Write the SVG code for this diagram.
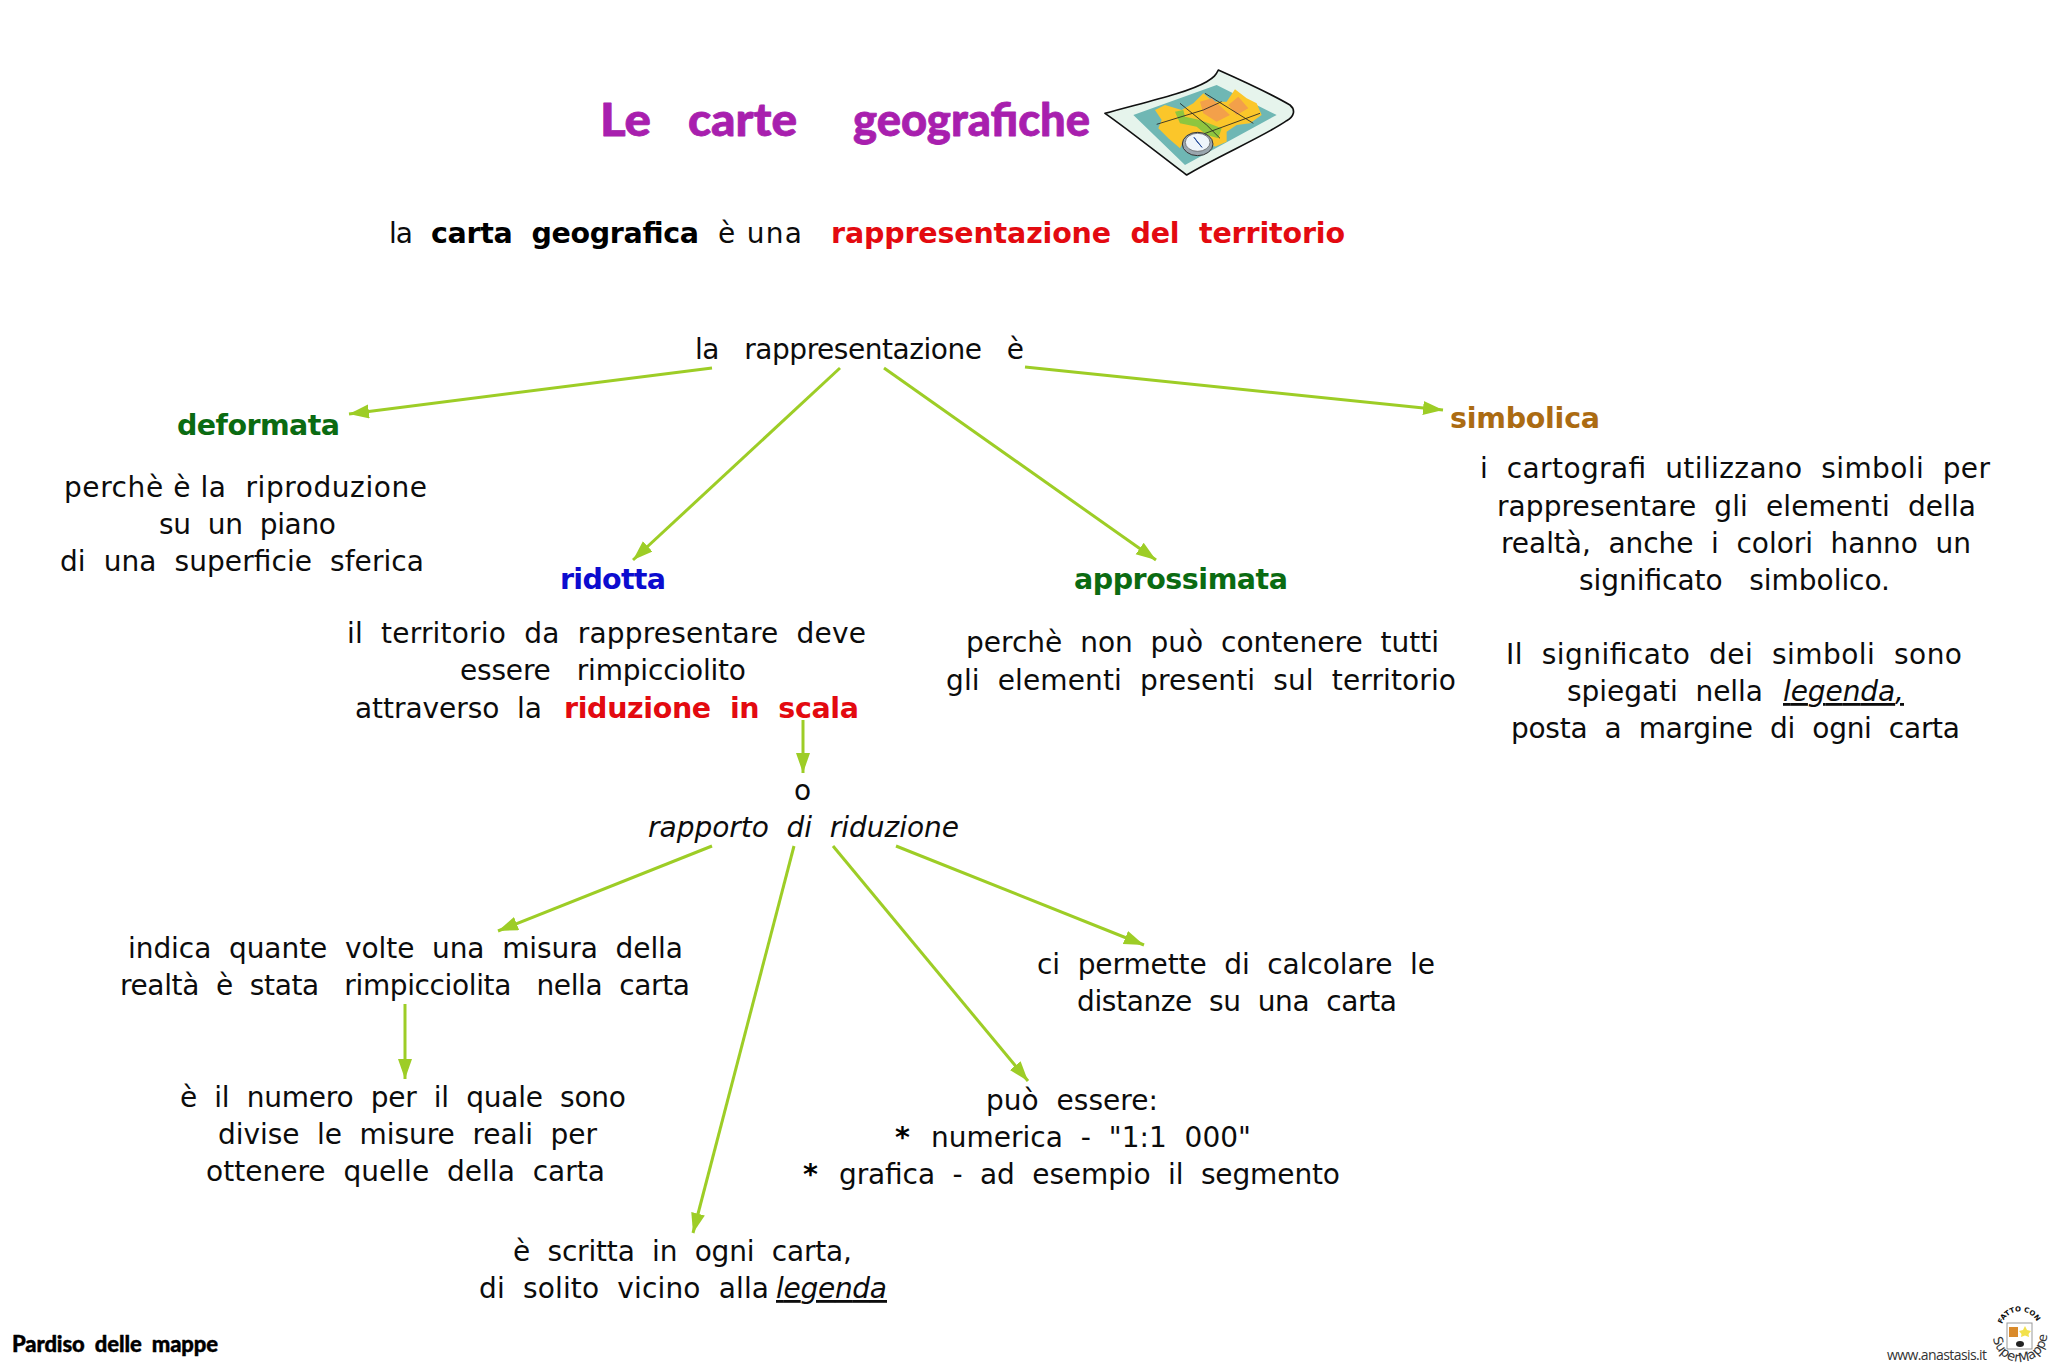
<svg xmlns="http://www.w3.org/2000/svg" width="2048" height="1363" viewBox="0 0 2048 1363">
<style>
text{font-family:"DejaVu Sans",Verdana,sans-serif;font-size:28px;fill:#0c0c0c;white-space:pre}
.b{font-weight:700;font-size:28.500px}
.i{font-style:italic}
.u{text-decoration:underline}
.red{fill:#e30a10}
.grn{fill:#0b6b12}
.blu{fill:#0c0ccf}
.brn{fill:#ab6b12}
.cm{font-family:"Lato","Open Sans",sans-serif;font-weight:900;stroke-linejoin:round}
.ttl{font-size:46px;fill:#a81fae;stroke:#a81fae;stroke-width:.8}
.ft{font-size:22px;fill:#000;stroke:#000;stroke-width:.4}
.con line{stroke:#9dcd26;stroke-width:3;fill:none;marker-end:url(#ah)}
</style>
<defs>
<marker id="ah" markerUnits="userSpaceOnUse" markerWidth="22" markerHeight="16" refX="20" refY="7" orient="auto"><path d="M0 0L20 7L0 14Z" fill="#9dcd26"/></marker>
<path id="arcTop" d="M2002 1324A19 19 0 0 1 2037 1322"/>
<path id="arcBot" d="M1993 1338A27.200 27.200 0 0 0 2047 1338"/>
</defs>
<rect width="2048" height="1363" fill="#fff"/>

<g id="title">
<text class="cm ttl" x="600" y="136" textLength="51" lengthAdjust="spacingAndGlyphs">Le</text>
<text class="cm ttl" x="688" y="136" textLength="109" lengthAdjust="spacingAndGlyphs">carte</text>
<text class="cm ttl" x="853" y="136" textLength="237" lengthAdjust="spacingAndGlyphs">geografiche</text>
</g>

<g id="map-icon" transform="translate(1090 60) scale(.3333)">
<path d="M45 160C150 130 290 100 350 65C372 52 378 45 385 30C430 50 540 100 600 135C618 150 612 170 590 182C530 225 380 290 290 345C230 300 110 205 45 160Z" fill="#e6f4ec" stroke="#111" stroke-width="5" stroke-linejoin="round"/>
<path d="M130 165L380 75L560 165L395 255L285 315Z" fill="#6fb7b4"/>
<path d="M195 150L225 135L275 150L310 130L340 100L370 125L410 125L435 88L470 115L500 130L515 165L480 190L440 195L410 215L410 245L375 260L350 240L290 225L270 265L235 235L205 205L215 180Z" fill="#fbc62a"/>
<path d="M330 125L365 115L420 165L380 185L340 160ZM415 135L445 110L475 145L440 165Z" fill="#f3a04a"/>
<path d="M255 155L280 150L285 170L330 180L395 205L385 235L350 225L320 200L270 190Z" fill="#8ec63f"/>
<path d="M200 193L340 150L395 125M270 130L350 195L390 235M305 235L510 160M345 100L490 190" fill="none" stroke="#222" stroke-width="2.500"/>
<ellipse cx="323" cy="252" rx="46" ry="35" fill="#9aa6ae" stroke="#333" stroke-width="3"/>
<ellipse cx="323" cy="247" rx="37" ry="27" fill="#eef5fa" stroke="#555" stroke-width="2"/>
<path d="M312 232L336 262L322 246Z" fill="#2a4f9c" stroke="#2a4f9c" stroke-width="3"/>
</g>

<g id="definizione">
<text x="389" y="243" textLength="24">la</text>
<text class="b" x="431" y="243" textLength="268" style="fill:#000">carta  geografica</text>
<text x="718" y="243" textLength="84">è una</text>
<text class="b red" x="831" y="243" textLength="514">rappresentazione  del  territorio</text>
</g>

<g id="rappresentazione"><text x="695" y="359" textLength="329">la   rappresentazione   è</text></g>

<g id="deformata">
<text class="b grn" x="177" y="435" textLength="163">deformata</text>
<text x="64" y="497" textLength="363">perchè è la  riproduzione</text>
<text x="159" y="534" textLength="177">su  un  piano</text>
<text x="60" y="571" textLength="364">di  una  superficie  sferica</text>
</g>

<g id="ridotta">
<text class="b blu" x="560" y="589" textLength="106">ridotta</text>
<text x="347" y="643" textLength="519">il  territorio  da  rappresentare  deve</text>
<text x="460" y="680" textLength="286">essere   rimpicciolito</text>
<text x="355" y="718" textLength="187">attraverso  la</text>
<text class="b red" x="564" y="718" textLength="295">riduzione  in  scala</text>
</g>

<g id="approssimata">
<text class="b grn" x="1074" y="589" textLength="214">approssimata</text>
<text x="966" y="652" textLength="473">perchè  non  può  contenere  tutti</text>
<text x="946" y="690" textLength="510">gli  elementi  presenti  sul  territorio</text>
</g>

<g id="simbolica">
<text class="b brn" x="1450" y="428" textLength="150">simbolica</text>
<text x="1480" y="478" textLength="510">i  cartografi  utilizzano  simboli  per</text>
<text x="1497" y="516" textLength="479">rappresentare  gli  elementi  della</text>
<text x="1501" y="553" textLength="470">realtà,  anche  i  colori  hanno  un</text>
<text x="1579" y="590" textLength="311">significato   simbolico.</text>
<text x="1506" y="664" textLength="456">Il  significato  dei  simboli  sono</text>
<text x="1567" y="701" textLength="196">spiegati  nella</text>
<text class="i u" x="1783" y="701" textLength="121">legenda,</text>
<text x="1511" y="738" textLength="449">posta  a  margine  di  ogni  carta</text>
</g>

<g id="rapporto">
<text x="794" y="800" textLength="17">o</text>
<text class="i" x="648" y="837" textLength="311">rapporto  di  riduzione</text>
</g>

<g id="indica">
<text x="128" y="958" textLength="555">indica  quante  volte  una  misura  della</text>
<text x="120" y="995" textLength="570">realtà  è  stata   rimpicciolita   nella  carta</text>
</g>

<g id="numero">
<text x="180" y="1107" textLength="446">è  il  numero  per  il  quale  sono</text>
<text x="218" y="1144" textLength="379">divise  le  misure  reali  per</text>
<text x="206" y="1181" textLength="399">ottenere  quelle  della  carta</text>
</g>

<g id="permette">
<text x="1037" y="974" textLength="398">ci  permette  di  calcolare  le</text>
<text x="1077" y="1011" textLength="320">distanze  su  una  carta</text>
</g>

<g id="puo-essere">
<text x="986" y="1110" textLength="172">può  essere:</text>
<text class="b" x="895" y="1147" style="fill:#000">*</text>
<text x="931" y="1147" textLength="320">numerica  -  "1:1  000"</text>
<text class="b" x="803" y="1184" style="fill:#000">*</text>
<text x="839" y="1184" textLength="501">grafica  -  ad  esempio  il  segmento</text>
</g>

<g id="scritta">
<text x="513" y="1261" textLength="339">è  scritta  in  ogni  carta,</text>
<text x="479" y="1298" textLength="290">di  solito  vicino  alla</text>
<text class="i u" x="776" y="1298" textLength="111">legenda</text>
</g>

<g id="connectors" class="con">
<line x1="712" y1="368" x2="349" y2="414"/>
<line x1="840" y1="368" x2="633" y2="560"/>
<line x1="884" y1="368" x2="1156" y2="560"/>
<line x1="1025" y1="367" x2="1443" y2="410"/>
<line x1="803" y1="720" x2="803" y2="773"/>
<line x1="712" y1="846" x2="498" y2="931"/>
<line x1="794" y1="846" x2="693" y2="1233"/>
<line x1="833" y1="846" x2="1028" y2="1081"/>
<line x1="896" y1="846" x2="1144" y2="945"/>
<line x1="405" y1="1004" x2="405" y2="1079"/>
</g>

<g id="footer-left"><text class="cm ft" x="12" y="1352" textLength="206">Pardiso  delle  mappe</text></g>

<g id="footer-right">
<text x="1887" y="1360" textLength="100" style="font-family:'Open Sans',sans-serif;font-size:14px;fill:#333">www.anastasis.it</text>
<rect x="2007" y="1323" width="25" height="26" fill="#fff" stroke="#999" stroke-width="1"/>
<rect x="2009" y="1327" width="9" height="10" fill="#d98a2b"/>
<path d="M2025 1326L2027 1330L2031 1331L2028.500 1334L2029 1337L2025 1335.500L2021 1337L2021.500 1334L2019 1331L2023 1330Z" fill="#f2e14c"/>
<ellipse cx="2020" cy="1344" rx="4" ry="3" fill="#222"/>
<text style="font-size:7px;font-weight:700"><textPath href="#arcTop">FATTO CON</textPath></text>
<text style="font-size:13px;fill:#333"><textPath href="#arcBot">SuperMappe</textPath></text>
</g>
</svg>
